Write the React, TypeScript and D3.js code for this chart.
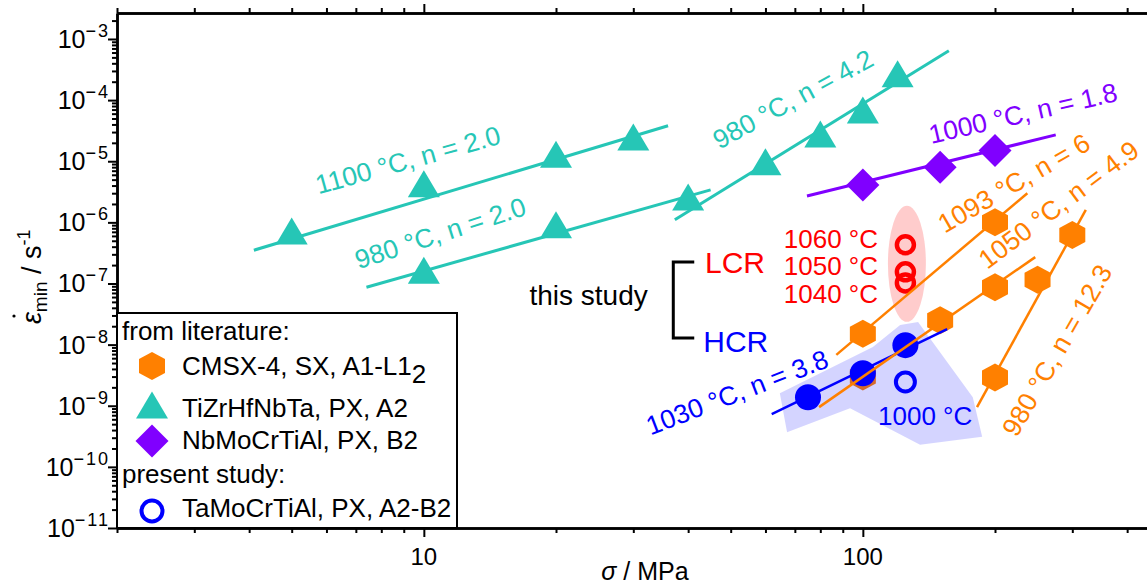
import { useEffect, useRef } from 'react'
import * as d3 from 'd3'

const W = 1147
const H = 587
const FONT = '"Liberation Sans", Arial, sans-serif'

// TiZrHfNbTa, PX, A2 (Ti triangles)
const tiz1100Stress = [5, 10, 20, 30]
const tiz1100Rate = [7.2e-7, 4.3e-6, 1.3e-5, 2.5e-5]
const tiz1100Fit = [[4.1, 3.5e-7], [36, 3.8e-5]]
const tiz980aStress = [10, 20, 40]
const tiz980aRate = [1.65e-7, 9.1e-7, 2.6e-6]
const tiz980aFit = [[7.4, 8.7e-8], [45, 3.4e-6]]
const tiz980bStress = [60, 80, 100, 120]
const tiz980bRate = [9.8e-6, 2.8e-5, 6.9e-5, 2.7e-4]
const tiz980bFit = [[37.3, 1.1e-6], [157, 6.4e-4]]

// NbMoCrTiAl, PX, B2
const nbStress = [100, 150, 200]
const nbRate = [4.1e-6, 8.0e-6, 1.5e-5]
const nbFit = [[74.6, 2.7e-6], [275, 2.7e-5]]

// CMSX-4, SX
const cmsx1093Stress = [100, 200]
const cmsx1093Rate = [1.5e-8, 1.0e-6]
const cmsx1093Fit = [[87, 6.8e-9], [237, 3.0e-6]]
const cmsx1050Stress = [100, 150, 200]
const cmsx1050Rate = [3.0e-9, 2.5e-8, 8.7e-8]
const cmsx1050Fit = [[79.5, 9.5e-10], [247, 2.7e-7]]
const cmsx980Stress = [200, 250, 300]
const cmsx980Rate = [2.9e-9, 1.15e-7, 6.2e-7]
const cmsx980Fit = [[182, 9.5e-10], [322, 1.6e-6]]

// present study TaMoCrTiAl
const hcrStress = [75, 100, 125]
const hcrRate = [1.38e-9, 3.4e-9, 9.8e-9]
const hcrFit = [[62, 7.3e-10], [155.6, 1.8e-8]]
const hcr1000Stress = [125]
const hcr1000Rate = [2.45e-9]
const lcrStress = [125, 125, 125]
const lcrRate = [4.3e-7, 1.55e-7, 1.02e-7]

// shaded regions (data coords)
const hcrRegion = [
  [64.7, 1.6e-9], [105.4, 9.1e-9], [121.6, 2.1e-8], [133.6, 2.35e-8], [178, 1.38e-9],
  [187, 3.1e-10], [135, 2.3e-10], [93.5, 9.1e-10], [67.2, 3.7e-10],
]
const lcrCenter = [126, 2.1e-7]

// fit labels: text, anchor (stress, rate), angle
const fitLabels = [
  { text: '1100 °C, n = 2.0', at: [9.2, 1.05e-5], angle: -15.5, c: 'teal' },
  { text: '980 °C, n = 2.0', at: [10.9, 6.7e-7], angle: -18, c: 'teal' },
  { text: '980 °C, n = 4.2', at: [69.3, 1.04e-4], angle: -28.5, c: 'teal' },
  { text: '1000 °C, n = 1.8', at: [231.6, 6.1e-5], angle: -13, c: 'purple' },
  { text: '1093 °C, n = 6', at: [220.8, 4.4e-6], angle: -30, c: 'orange' },
  { text: '1050 °C, n = 4.9', at: [279, 1.95e-6], angle: -37, c: 'orange' },
  { text: '980 °C, n = 12.3', at: [276.8, 8.1e-9], angle: -60, c: 'orange' },
  { text: '1030 °C, n = 3.8', at: [51.7, 1.66e-9], angle: -21, c: 'blue' },
]
const lcrTemps = ['1060 °C', '1050 °C', '1040 °C']
const lcrTempAt = [[108.3, 3.8e-7], [108.3, 1.38e-7], [108.3, 4.8e-8]]
const bracket = [[41.3, 2.24e-7], [37, 2.24e-7], [37, 1.28e-8], [41.3, 1.28e-8]]

const xMajor = [10, 100]
const yMajor = [-3, -4, -5, -6, -7, -8, -9, -10, -11]

const COLORS: Record<string, string> = {
  teal: '#26C6B6',
  purple: '#8000FF',
  orange: '#FF8000',
  blue: '#0000FF',
  red: '#FF0000',
}

const hexPath = 'M0,-14L13,-7L13,7L0,14L-13,7L-13,-7Z'
const triPath = 'M0,-13.5L16,13.5L-16,13.5Z'
const diaPath = 'M0,-16.5L16.5,0L0,16.5L-16.5,0Z'

export default function App() {
  const ref = useRef<SVGSVGElement>(null)

  useEffect(() => {
    const el = ref.current
    if (!el) return
    const svg = d3.select(el)
    svg.selectAll('*').remove()

    const left = 117
    const top = 13
    const bottom = 528
    const x = d3.scaleLog().domain([2, 500]).range([left, left + 439 * Math.log10(250)])
    const y = d3.scaleLog().domain([1e-11, Math.pow(10, -2.575)]).range([bottom, top])
    const line = d3.line<number[]>().x(d => x(d[0])).y(d => y(d[1]))

    const markers = (xs: number[], ys: number[], d: string, fill: string) => {
      svg.append('g').selectAll('path')
        .data(xs.map((s, i) => [s, ys[i]]))
        .join('path')
        .attr('d', d)
        .attr('transform', p => `translate(${x(p[0])},${y(p[1])})`)
        .attr('fill', fill)
    }
    const fit = (pts: number[][], color: string, w: number) => {
      svg.append('path').attr('d', line(pts)).attr('fill', 'none')
        .attr('stroke', color).attr('stroke-width', w)
    }

    // CMSX-4 hexagons (under the shaded HCR region)
    markers(cmsx1093Stress, cmsx1093Rate, hexPath, COLORS.orange)
    markers(cmsx1050Stress, cmsx1050Rate, hexPath, COLORS.orange)
    markers(cmsx980Stress, cmsx980Rate, hexPath, COLORS.orange)

    // shaded regions
    svg.append('path').attr('d', line(hcrRegion) + 'Z').attr('fill', 'rgba(0,0,255,0.17)')
    svg.append('ellipse')
      .attr('cx', x(lcrCenter[0])).attr('cy', y(lcrCenter[1]))
      .attr('rx', 19).attr('ry', 58)
      .attr('fill', 'rgba(255,0,0,0.2)')

    // TiZrHfNbTa
    fit(tiz1100Fit, COLORS.teal, 3)
    fit(tiz980aFit, COLORS.teal, 3)
    fit(tiz980bFit, COLORS.teal, 3)
    markers(tiz1100Stress, tiz1100Rate, triPath, COLORS.teal)
    markers(tiz980aStress, tiz980aRate, triPath, COLORS.teal)
    markers(tiz980bStress, tiz980bRate, triPath, COLORS.teal)

    // NbMoCrTiAl
    fit(nbFit, COLORS.purple, 3)
    markers(nbStress, nbRate, diaPath, COLORS.purple)

    // present study
    svg.append('g').selectAll('circle')
      .data(hcrStress.map((s, i) => [s, hcrRate[i]]))
      .join('circle')
      .attr('cx', d => x(d[0])).attr('cy', d => y(d[1])).attr('r', 13)
      .attr('fill', COLORS.blue)
    fit(hcrFit, COLORS.blue, 2.5)
    svg.append('g').selectAll('circle')
      .data(hcr1000Stress.map((s, i) => [s, hcr1000Rate[i]]))
      .join('circle')
      .attr('cx', d => x(d[0])).attr('cy', d => y(d[1])).attr('r', 9.5)
      .attr('fill', 'none').attr('stroke', COLORS.blue).attr('stroke-width', 4)
    svg.append('g').selectAll('circle')
      .data(lcrStress.map((s, i) => [s, lcrRate[i]]))
      .join('circle')
      .attr('cx', d => x(d[0])).attr('cy', d => y(d[1])).attr('r', 8.5)
      .attr('fill', 'none').attr('stroke', COLORS.red).attr('stroke-width', 4.5)

    // CMSX-4 fits on top
    fit(cmsx1093Fit, COLORS.orange, 2.5)
    fit(cmsx1050Fit, COLORS.orange, 2.5)
    fit(cmsx980Fit, COLORS.orange, 2.5)

    // fit labels
    fitLabels.forEach(l => {
      svg.append('text')
        .attr('transform', `translate(${x(l.at[0])},${y(l.at[1])}) rotate(${l.angle})`)
        .attr('text-anchor', 'middle').attr('dy', '0.35em')
        .attr('font-family', FONT).attr('font-size', 26.5)
        .attr('fill', COLORS[l.c])
        .text(l.text)
    })
    lcrTemps.forEach((t, i) => {
      svg.append('text')
        .attr('x', x(lcrTempAt[i][0])).attr('y', y(lcrTempAt[i][1]))
        .attr('text-anchor', 'end').attr('font-family', FONT).attr('font-size', 26)
        .attr('fill', COLORS.red).text(t)
    })
    svg.append('text').attr('x', x(108.3)).attr('y', y(4.8e-10))
      .attr('font-family', FONT).attr('font-size', 26).attr('fill', COLORS.blue).text('1000 °C')
    svg.append('text').attr('x', x(43.7)).attr('y', y(1.48e-7))
      .attr('font-family', FONT).attr('font-size', 30).attr('fill', COLORS.red).text('LCR')
    svg.append('text').attr('x', x(43.3)).attr('y', y(7.6e-9))
      .attr('font-family', FONT).attr('font-size', 30).attr('fill', COLORS.blue).text('HCR')
    svg.append('text').attr('x', x(17.4)).attr('y', y(4.4e-8))
      .attr('font-family', FONT).attr('font-size', 28).attr('fill', '#000').text('this study')
    svg.append('path').attr('d', line(bracket))
      .attr('fill', 'none').attr('stroke', '#000').attr('stroke-width', 3)

    // axes
    const xMinor = d3.range(0, 3).flatMap(k => d3.range(1, 10).map(m => m * Math.pow(10, k)))
      .filter(v => v >= 2 && v <= 500 && !xMajor.includes(v))
    const yMinor = yMajor.flatMap(k => d3.range(2, 10).map(m => m * Math.pow(10, k)))
      .filter(v => v >= 1e-11 && v <= Math.pow(10, -2.575))
    const yMajorVals = yMajor.map(k => Math.pow(10, k))

    const styleAxis = (g: d3.Selection<SVGGElement, unknown, null, undefined>) => {
      g.selectAll('path').attr('stroke', '#000').attr('stroke-width', 2.5)
      g.selectAll('line').attr('stroke', '#000').attr('stroke-width', 2)
      g.selectAll('text').remove()
    }
    const axes = svg.append('g')
    axes.append('g').attr('transform', `translate(0,${bottom})`)
      .call(d3.axisBottom(x).tickValues(xMinor).tickSize(5).tickSizeOuter(0)).call(styleAxis)
    axes.append('g').attr('transform', `translate(0,${bottom})`)
      .call(d3.axisBottom(x).tickValues(xMajor).tickSize(9).tickSizeOuter(0)).call(styleAxis)
    axes.append('g').attr('transform', `translate(0,${top})`)
      .call(d3.axisTop(x).tickValues(xMinor).tickSize(5).tickSizeOuter(0)).call(styleAxis)
    axes.append('g').attr('transform', `translate(0,${top})`)
      .call(d3.axisTop(x).tickValues(xMajor).tickSize(9).tickSizeOuter(0)).call(styleAxis)
    axes.append('g').attr('transform', `translate(${left},0)`)
      .call(d3.axisLeft(y).tickValues(yMinor).tickSize(5).tickSizeOuter(0)).call(styleAxis)
    axes.append('g').attr('transform', `translate(${left},0)`)
      .call(d3.axisLeft(y).tickValues(yMajorVals).tickSize(9).tickSizeOuter(0)).call(styleAxis)

    // tick labels
    yMajor.forEach(k => {
      const t = svg.append('text').attr('x', 110).attr('y', y(Math.pow(10, k)) + 9)
        .attr('text-anchor', 'end').attr('font-family', FONT).attr('font-size', 25).attr('fill', '#000')
      t.append('tspan').text('10')
      t.append('tspan').attr('dy', -11).attr('font-size', 18).attr('letter-spacing', 2).text(`\u2212${-k}`)
    })
    xMajor.forEach(v => {
      svg.append('text').attr('x', x(v)).attr('y', 565).attr('text-anchor', 'middle')
        .attr('font-family', FONT).attr('font-size', 24).attr('fill', '#000').text(String(v))
    })

    // axis titles
    const xt = svg.append('text').attr('x', 645).attr('y', 580).attr('text-anchor', 'middle')
      .attr('font-family', FONT).attr('font-size', 25).attr('fill', '#000')
    xt.append('tspan').attr('font-style', 'italic').text('σ')
    xt.append('tspan').text(' / MPa')

    const yg = svg.append('g').attr('transform', 'translate(41,324) rotate(-90)')
    const yt = yg.append('text').attr('font-family', FONT).attr('font-size', 27).attr('fill', '#000')
    yt.append('tspan').attr('font-style', 'italic').text('ε')
    yt.append('tspan').attr('font-size', 19).attr('dy', 6).text('min')
    yt.append('tspan').attr('dy', -6).text(' / s')
    yt.append('tspan').attr('font-size', 18).attr('dy', -11).text('-1')
    yg.append('circle').attr('cx', 8).attr('cy', -27).attr('r', 1.6).attr('fill', '#000')

    // legend
    const lg = svg.append('g')
    lg.append('rect').attr('x', left).attr('y', 313).attr('width', 340).attr('height', bottom - 313)
      .attr('fill', '#fff').attr('stroke', '#000').attr('stroke-width', 2)
    const ltext = (tx: number, ty: number, s: string) =>
      lg.append('text').attr('x', tx).attr('y', ty).attr('font-family', FONT)
        .attr('font-size', 26).attr('fill', '#000').text(s)
    ltext(122, 340, 'from literature:')
    const c1 = ltext(182, 375, 'CMSX-4, SX, A1-L1')
    c1.append('tspan').attr('dy', 8).text('2')
    ltext(182, 417, 'TiZrHfNbTa, PX, A2')
    ltext(182, 449, 'NbMoCrTiAl, PX, B2')
    ltext(122, 483, 'present study:')
    ltext(182, 517, 'TaMoCrTiAl, PX, A2-B2')
    lg.append('path').attr('d', hexPath).attr('transform', 'translate(152,366)').attr('fill', COLORS.orange)
    lg.append('path').attr('d', triPath).attr('transform', 'translate(152,405)').attr('fill', COLORS.teal)
    lg.append('path').attr('d', diaPath).attr('transform', 'translate(152,441)').attr('fill', COLORS.purple)
    lg.append('circle').attr('cx', 152).attr('cy', 511).attr('r', 10.5)
      .attr('fill', 'none').attr('stroke', COLORS.blue).attr('stroke-width', 4)
  }, [])

  return (
    <svg
      ref={ref}
      width={W}
      height={H}
      style={{ position: 'absolute', left: 0, top: 0, background: '#fff', overflow: 'hidden' }}
    />
  )
}
